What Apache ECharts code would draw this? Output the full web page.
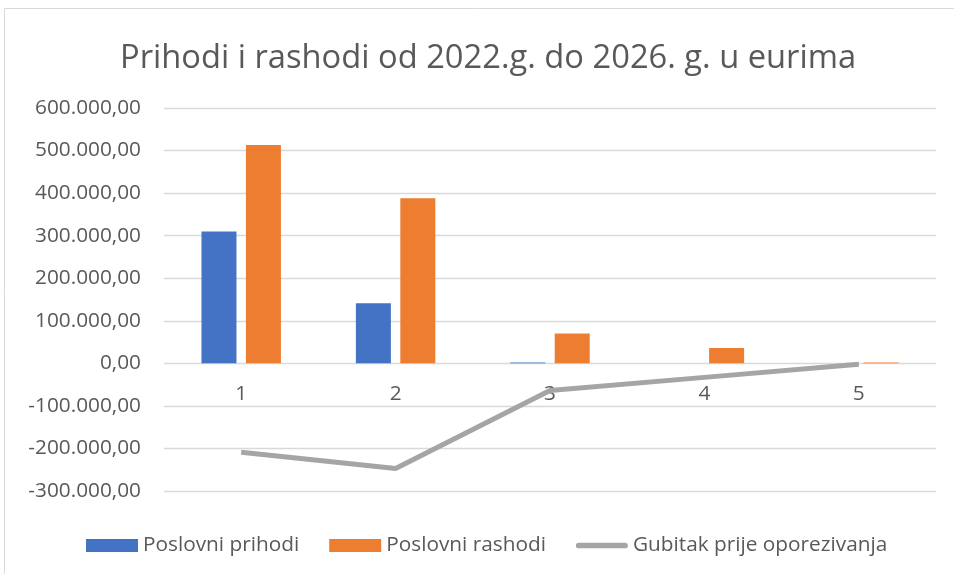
<!DOCTYPE html>
<html>
<head>
<meta charset="utf-8">
<script src="https://cdn.jsdelivr.net/npm/echarts@6/dist/echarts.min.js"></script>
<style>
  html, body { margin: 0; padding: 0; background: #fff; }
  #chart { width: 954px; height: 574px; }
</style>
</head>
<body>
<div id="chart"></div>
<script>
const categories = ['1', '2', '3', '4', '5']
const prihodi = [310000, 141000, 2000, 0, 0]
const rashodi = [513000, 388000, 70000, 36000, 2000]
const gubitak = [-209000, -247000, -64000, -33000, -2000]

const font = 'Open Sans'
const textColor = '#595959'

// 600.000,00 style labels
const fmt = (v) => {
  const neg = v < 0
  const s = Math.abs(v).toFixed(0).replace(/\B(?=(\d{3})+(?!\d))/g, '.')
  return (neg ? '-' : '') + s + ',00'
}

const myChart = echarts.init(document.getElementById('chart'))
myChart.setOption({
  animation: false,
  title: {
    text: 'Prihodi i rashodi od 2022.g. do 2026. g. u eurima',
    left: 115,
    top: 37,
    textStyle: { fontFamily: font, fontSize: 32.7, fontWeight: 'normal', color: textColor }
  },
  graphic: [{
    type: 'rect',
    shape: { x: 4.5, y: 8.5, width: 960, height: 580 },
    style: { fill: null, stroke: '#d9d9d9', lineWidth: 1 },
    silent: true
  }],
  legend: {
    top: 530,
    left: 81,
    itemWidth: 52,
    itemHeight: 13,
    itemGap: 30,
    textStyle: { fontFamily: font, fontSize: 20.8, color: textColor },
    data: [
      { name: 'Poslovni prihodi', icon: 'rect' },
      { name: 'Poslovni rashodi', icon: 'rect' },
      { name: 'Gubitak prije oporezivanja', icon: 'path://M3,0 L52,0 A3,3 0 0 1 52,6 L3,6 A3,3 0 0 1 3,0 Z' }
    ]
  },
  grid: {
    left: 164,
    right: 18,
    top: 108,
    bottom: 83
  },
  xAxis: {
    type: 'category',
    data: categories,
    axisLine: { show: false },
    axisTick: { show: false },
    // labels sit just under the zero line, as in the Excel chart
    axisLabel: { fontFamily: font, fontSize: 20.8, color: textColor, margin: -107 }
  },
  yAxis: {
    type: 'value',
    min: -300000,
    max: 600000,
    interval: 100000,
    axisLine: { show: false },
    axisTick: { show: false },
    axisLabel: { fontFamily: font, fontSize: 20.8, color: textColor, margin: 23, formatter: fmt },
    splitLine: { lineStyle: { color: '#d9d9d9', width: 1.3 } }
  },
  series: [
    {
      name: 'Poslovni prihodi',
      type: 'bar',
      data: prihodi,
      barWidth: 35,
      barGap: '27%',
      itemStyle: { color: '#4472C4' }
    },
    {
      name: 'Poslovni rashodi',
      type: 'bar',
      data: rashodi,
      barWidth: 35,
      itemStyle: { color: '#ED7D31' }
    },
    {
      name: 'Gubitak prije oporezivanja',
      type: 'line',
      data: gubitak,
      symbol: 'none',
      lineStyle: { color: '#A5A5A5', width: 5 },
      itemStyle: { color: '#A5A5A5' }
    }
  ]
})
</script>
</body>
</html>
